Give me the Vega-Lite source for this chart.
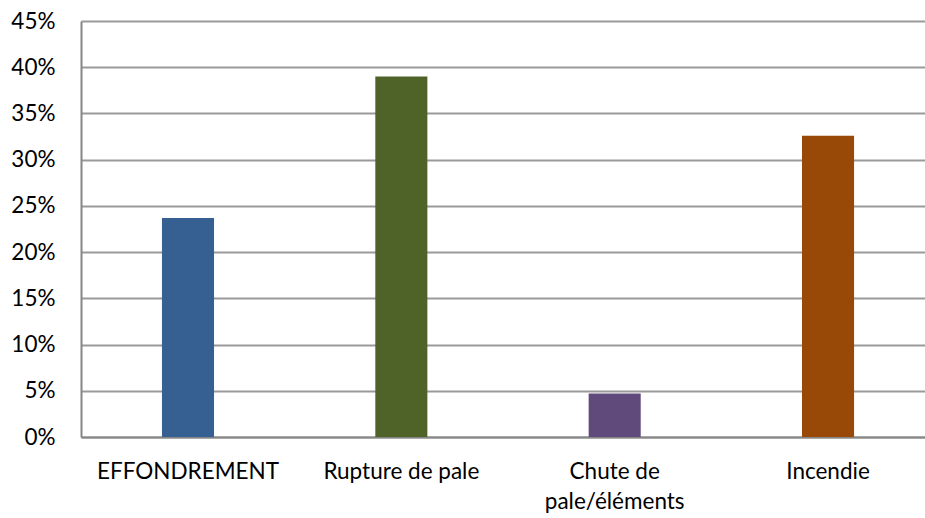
{
  "$schema": "https://vega.github.io/schema/vega-lite/v6.json",
  "autosize": {"type": "none"},
  "padding": {"left": 81, "top": 21, "right": 0, "bottom": 81},
  "width": 844,
  "height": 416,
  "background": "white",
  "config": {
    "view": {"stroke": null},
    "font": "Lato"
  },
  "data": {
    "values": [
      {"cause": "EFFONDREMENT", "part": 0.237, "color": "#376092"},
      {"cause": "Rupture de pale", "part": 0.39, "color": "#4F6228"},
      {"cause": "Chute de pale/éléments", "part": 0.047, "color": "#604A7B"},
      {"cause": "Incendie", "part": 0.326, "color": "#984807"}
    ]
  },
  "mark": {"type": "bar"},
  "encoding": {
    "x": {
      "field": "cause",
      "type": "nominal",
      "sort": null,
      "scale": {"paddingInner": 0.756, "paddingOuter": 0.356, "align": 0.533},
      "axis": {
        "title": null,
        "labelAngle": 0,
        "labelFont": "Lato",
        "labelFontSize": 22.5,
        "labelColor": "#000000",
        "labelPadding": 23,
        "labelLineHeight": 30,
        "labelBaseline": "top",
        "labelLimit": 400,
        "ticks": false,
        "domainColor": "#868686",
        "domainWidth": 2,
        "labelExpr": "datum.value == 'Chute de pale/éléments' ? ['Chute de', 'pale/éléments'] : datum.label"
      }
    },
    "y": {
      "field": "part",
      "type": "quantitative",
      "scale": {"domain": [0, 0.45], "nice": false},
      "axis": {
        "title": null,
        "values": [0, 0.05, 0.1, 0.15, 0.2, 0.25, 0.3, 0.35, 0.4, 0.45],
        "format": ".0%",
        "labelFont": "Lato",
        "labelFontSize": 22.5,
        "labelColor": "#000000",
        "labelPadding": 26,
        "ticks": false,
        "domainColor": "#868686",
        "domainWidth": 2,
        "grid": true,
        "gridColor": "#9a9a9a",
        "gridWidth": 2
      }
    },
    "color": {"field": "color", "type": "nominal", "scale": null, "legend": null}
  }
}
